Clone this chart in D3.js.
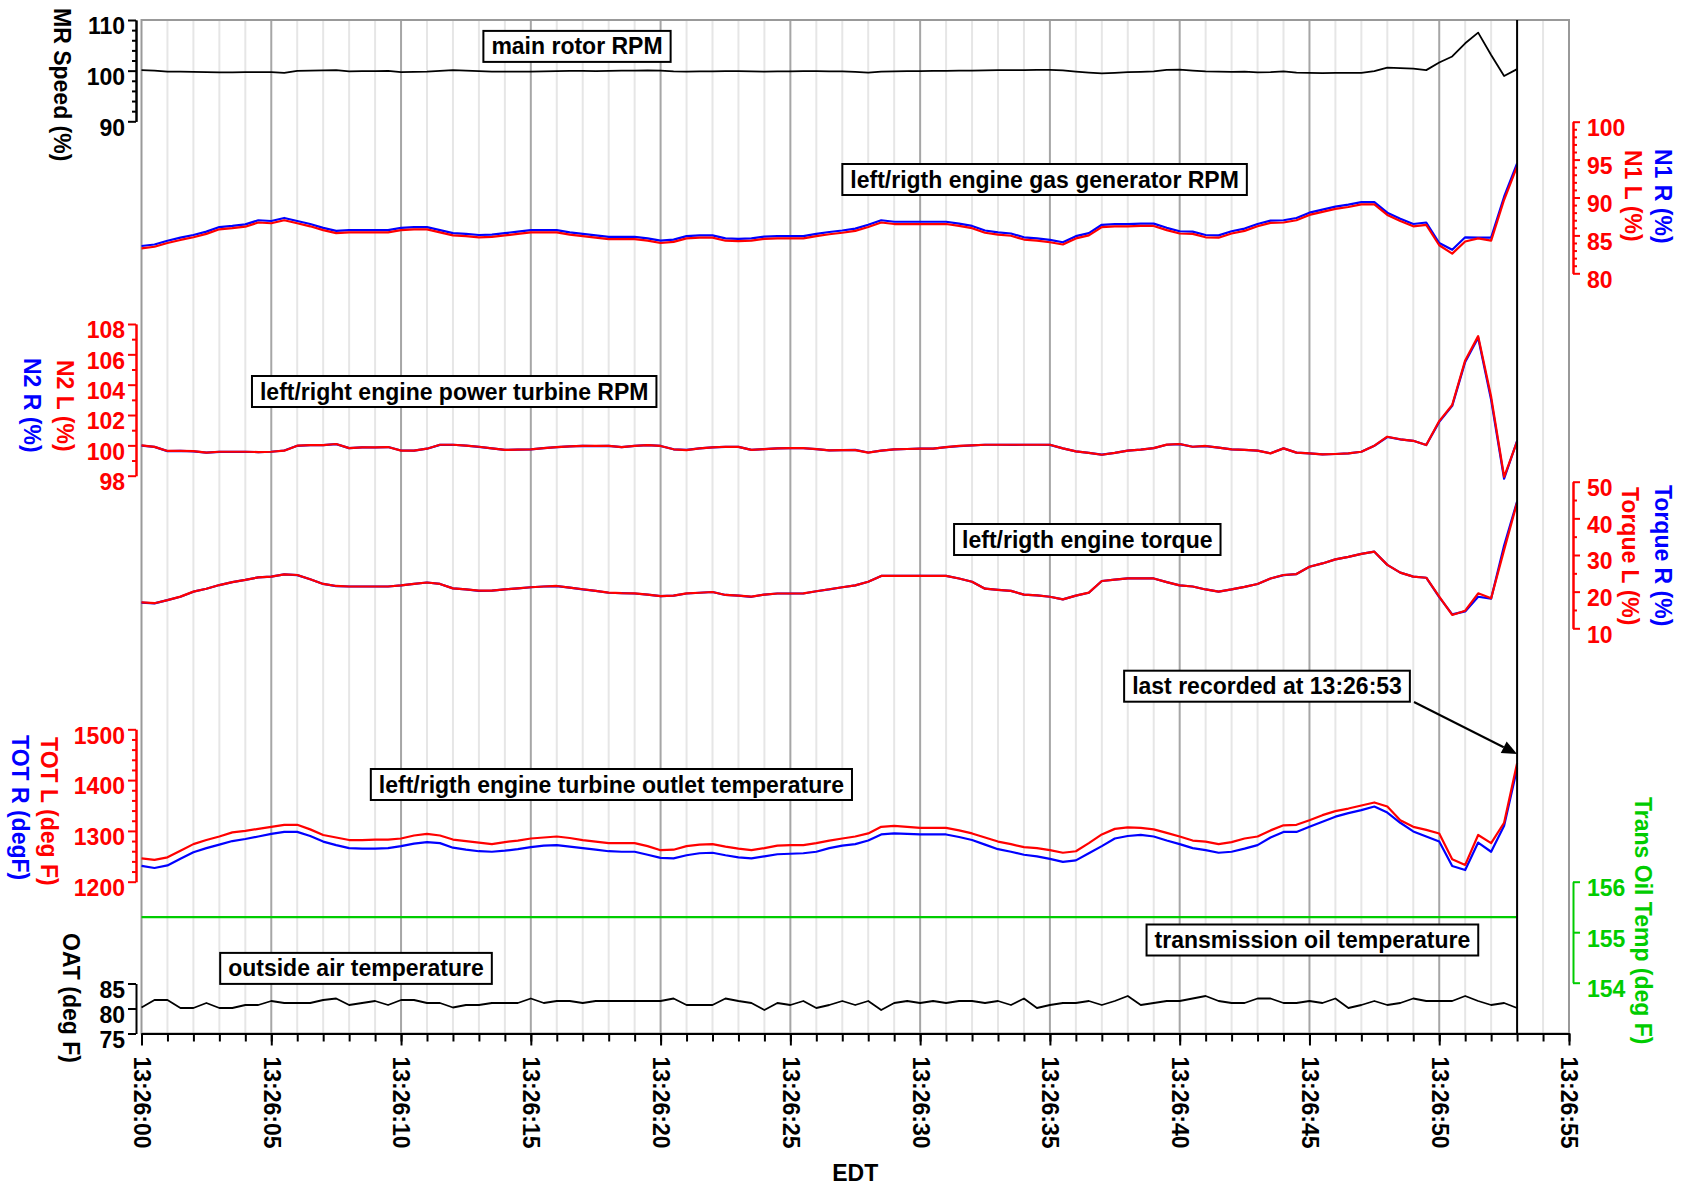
<!DOCTYPE html>
<html>
<head>
<meta charset="utf-8">
<script src="https://cdn.jsdelivr.net/npm/d3@7"></script>
<style>
  html, body { margin: 0; padding: 0; background: #fff; }
  svg text { font-family: "Liberation Sans", Arial, sans-serif; font-weight: bold; }
</style>
</head>
<body>
<svg id="chart" width="1684" height="1186"></svg>
<script>
// ---- recorded samples: seconds after 13:26:00, every 0.5 s ----
const seconds = [
  0,0.5,1,1.5,2,2.5,3,3.5,4,4.5,
  5,5.5,6,6.5,7,7.5,8,8.5,9,9.5,
  10,10.5,11,11.5,12,12.5,13,13.5,14,14.5,
  15,15.5,16,16.5,17,17.5,18,18.5,19,19.5,
  20,20.5,21,21.5,22,22.5,23,23.5,24,24.5,
  25,25.5,26,26.5,27,27.5,28,28.5,29,29.5,
  30,30.5,31,31.5,32,32.5,33,33.5,34,34.5,
  35,35.5,36,36.5,37,37.5,38,38.5,39,39.5,
  40,40.5,41,41.5,42,42.5,43,43.5,44,44.5,
  45,45.5,46,46.5,47,47.5,48,48.5,49,49.5,
  50,50.5,51,51.5,52,52.5,53
];

// main rotor speed (%)
const mrSpeed = [
  100.1,100.0,99.8,99.8,99.75,99.7,99.65,99.65,99.7,99.7,
  99.7,99.55,99.95,100.0,100.05,100.1,99.85,99.9,99.9,99.95,
  99.7,99.75,99.8,99.95,100.1,100.0,99.9,99.8,99.8,99.8,
  99.8,99.85,99.9,99.95,99.95,99.9,99.95,100.0,100.0,100.05,
  100.0,99.85,99.8,99.85,99.85,99.9,99.9,99.85,99.8,99.85,
  99.85,99.9,99.9,99.85,99.85,99.75,99.6,99.8,99.85,99.9,
  99.9,99.95,99.95,100.0,100.0,100.05,100.1,100.1,100.1,100.15,
  100.15,100.05,99.8,99.6,99.45,99.55,99.7,99.75,99.85,100.15,
  100.2,100.0,99.85,99.8,99.75,99.8,99.65,99.7,99.85,99.6,
  99.55,99.5,99.55,99.55,99.55,99.9,100.6,100.5,100.4,100.1,
  101.6,102.8,105.4,107.5,103.1,98.95,100.3
];

// gas generator speed, left / right engine (%)
const n1Left = [
  83.3,83.5,84.0,84.4,84.75,85.2,85.8,85.95,86.15,86.7,
  86.6,87.0,86.6,86.2,85.7,85.3,85.4,85.4,85.4,85.4,
  85.7,85.8,85.8,85.4,85.0,84.9,84.75,84.8,85.0,85.2,
  85.4,85.4,85.4,85.1,84.9,84.7,84.5,84.5,84.5,84.3,
  84.0,84.15,84.6,84.7,84.7,84.3,84.25,84.3,84.55,84.6,
  84.6,84.6,84.9,85.15,85.35,85.6,86.1,86.7,86.5,86.5,
  86.5,86.5,86.5,86.25,85.95,85.35,85.1,84.95,84.45,84.3,
  84.1,83.8,84.6,85.0,86.1,86.2,86.2,86.25,86.25,85.7,
  85.25,85.2,84.75,84.7,85.25,85.6,86.2,86.65,86.7,87.0,
  87.7,88.1,88.5,88.75,89.1,89.1,87.7,86.9,86.2,86.4,
  83.7,82.6,84.2,84.6,84.3,89.7,94.1
];
const n1Right = [
  83.6,83.8,84.3,84.7,85.05,85.5,86.1,86.25,86.45,87.0,
  86.9,87.3,86.9,86.5,86.0,85.6,85.7,85.7,85.7,85.7,
  86.0,86.1,86.1,85.7,85.3,85.2,85.05,85.1,85.3,85.5,
  85.7,85.7,85.7,85.4,85.2,85.0,84.8,84.8,84.8,84.6,
  84.3,84.45,84.9,85.0,85.0,84.6,84.55,84.6,84.85,84.9,
  84.9,84.9,85.2,85.45,85.65,85.9,86.4,87.0,86.8,86.8,
  86.8,86.8,86.8,86.55,86.25,85.65,85.4,85.25,84.75,84.6,
  84.4,84.1,84.9,85.3,86.4,86.5,86.5,86.55,86.55,86.0,
  85.55,85.5,85.05,85.0,85.55,85.9,86.5,86.95,87.0,87.3,
  88.0,88.4,88.8,89.05,89.4,89.4,88.0,87.2,86.5,86.7,
  84.0,83.1,84.75,84.7,84.7,90.1,94.5
];

// power turbine speed, left / right engine (%)
const n2Left = [
  100.0,99.9,99.63,99.63,99.62,99.52,99.58,99.58,99.58,99.56,
  99.58,99.65,99.98,100.02,100.02,100.09,99.82,99.87,99.87,99.89,
  99.65,99.65,99.78,100.04,100.04,99.98,99.91,99.8,99.7,99.72,
  99.74,99.82,99.89,99.93,99.96,99.96,99.96,99.89,99.96,100.02,
  99.96,99.74,99.69,99.8,99.87,99.91,99.9,99.7,99.75,99.8,
  99.82,99.82,99.75,99.67,99.68,99.69,99.52,99.65,99.74,99.76,
  99.78,99.78,99.88,99.96,100.0,100.04,100.04,100.04,100.04,100.04,
  100.04,99.8,99.6,99.5,99.38,99.5,99.65,99.72,99.82,100.05,
  100.09,99.91,99.96,99.85,99.74,99.7,99.65,99.47,99.8,99.52,
  99.47,99.4,99.43,99.47,99.58,99.98,100.57,100.4,100.3,100.02,
  101.6,102.66,105.6,107.2,103.2,97.93,100.24
];
const n2Right = [
  99.98,99.9,99.62,99.63,99.6,99.52,99.57,99.58,99.57,99.56,
  99.58,99.66,99.97,100.02,100.02,100.08,99.82,99.87,99.86,99.89,
  99.66,99.65,99.78,100.03,100.04,99.98,99.9,99.8,99.7,99.72,
  99.74,99.82,99.88,99.93,99.96,99.95,99.96,99.89,99.96,100.01,
  99.96,99.74,99.7,99.8,99.87,99.9,99.9,99.7,99.75,99.8,
  99.82,99.81,99.75,99.67,99.68,99.7,99.53,99.65,99.74,99.76,
  99.78,99.78,99.88,99.95,100.0,100.04,100.04,100.03,100.04,100.04,
  100.03,99.8,99.6,99.5,99.39,99.5,99.65,99.72,99.82,100.04,
  100.08,99.91,99.95,99.85,99.74,99.7,99.65,99.48,99.8,99.52,
  99.47,99.41,99.43,99.47,99.58,99.97,100.55,100.4,100.3,100.02,
  101.55,102.6,105.5,107.1,103.0,97.8,100.3
];

// engine torque, left / right (%)
const torqueLeft = [
  17.1,16.85,17.7,18.65,20.0,20.8,21.8,22.6,23.2,23.9,
  24.1,24.7,24.55,23.4,22.1,21.55,21.4,21.4,21.4,21.4,
  21.7,22.1,22.5,22.1,20.9,20.6,20.3,20.3,20.6,20.9,
  21.2,21.4,21.55,21.1,20.65,20.2,19.75,19.6,19.55,19.2,
  18.8,18.9,19.55,19.7,19.9,19.1,18.9,18.65,19.2,19.5,
  19.5,19.55,20.1,20.65,21.2,21.7,22.7,24.3,24.3,24.3,
  24.3,24.3,24.3,23.6,22.7,20.8,20.5,20.2,19.2,19.0,
  18.6,17.9,18.9,19.75,22.9,23.3,23.6,23.6,23.6,22.6,
  21.7,21.4,20.6,20.0,20.6,21.3,22.1,23.6,24.55,24.8,
  26.8,27.7,28.8,29.5,30.3,30.9,27.3,25.2,24.1,23.8,
  18.65,13.65,14.8,19.55,18.2,31.4,44.3
];
const torqueRight = [
  17.0,16.8,17.7,18.6,20.0,20.8,21.8,22.6,23.2,23.9,
  24.1,24.7,24.5,23.4,22.1,21.5,21.4,21.4,21.4,21.4,
  21.7,22.1,22.5,22.1,20.9,20.6,20.2,20.3,20.6,20.9,
  21.2,21.4,21.5,21.1,20.6,20.2,19.7,19.6,19.5,19.2,
  18.8,18.9,19.5,19.7,19.9,19.1,18.9,18.6,19.2,19.5,
  19.5,19.5,20.1,20.6,21.2,21.7,22.7,24.3,24.3,24.3,
  24.3,24.3,24.3,23.6,22.7,20.8,20.5,20.2,19.2,19.0,
  18.6,17.9,18.9,19.7,22.9,23.3,23.6,23.6,23.6,22.6,
  21.7,21.4,20.6,20.0,20.6,21.3,22.1,23.6,24.5,24.8,
  26.8,27.7,28.8,29.5,30.3,30.9,27.3,25.2,24.1,23.8,
  18.5,13.8,14.6,18.6,18.1,32.6,44.6
];

// turbine outlet temperature, left / right (deg F)
const totLeft = [
  1246,1243,1248,1261,1274,1282,1289,1297,1300,1304,
  1308,1312,1312,1303,1292,1287,1282,1282,1283,1283,
  1285,1291,1294,1291,1283,1280,1277,1274,1278,1281,
  1285,1287,1289,1286,1282,1279,1276,1276,1276,1270,
  1262,1263,1270,1273,1274,1269,1265,1262,1266,1271,
  1272,1272,1276,1281,1285,1289,1295,1308,1310,1308,
  1306,1306,1306,1301,1295,1287,1279,1274,1268,1266,
  1262,1257,1260,1276,1293,1304,1307,1306,1303,1296,
  1289,1281,1279,1274,1278,1285,1289,1301,1311,1312,
  1321,1331,1339,1344,1350,1356,1348,1321,1308,1302,
  1295,1244,1233,1292,1276,1316,1433
];
const totRight = [
  1231,1227,1232,1245,1258,1266,1273,1280,1284,1289,
  1294,1298,1298,1290,1279,1272,1266,1265,1265,1266,
  1270,1275,1278,1276,1267,1263,1260,1259,1261,1264,
  1268,1271,1272,1269,1266,1263,1260,1259,1259,1253,
  1247,1246,1252,1256,1257,1252,1248,1246,1250,1254,
  1255,1256,1259,1266,1271,1274,1281,1293,1295,1294,
  1293,1293,1293,1288,1282,1273,1264,1259,1253,1250,
  1245,1239,1242,1256,1270,1285,1290,1292,1289,1281,
  1274,1266,1262,1257,1259,1265,1272,1287,1298,1298,
  1308,1318,1328,1335,1341,1348,1336,1316,1299,1289,
  1279,1231,1223,1277,1259,1310,1423
];

// transmission oil temperature (deg F)
const transOilTemp = [
  155.3,155.3,155.3,155.3,155.3,155.3,155.3,155.3,155.3,155.3,
  155.3,155.3,155.3,155.3,155.3,155.3,155.3,155.3,155.3,155.3,
  155.3,155.3,155.3,155.3,155.3,155.3,155.3,155.3,155.3,155.3,
  155.3,155.3,155.3,155.3,155.3,155.3,155.3,155.3,155.3,155.3,
  155.3,155.3,155.3,155.3,155.3,155.3,155.3,155.3,155.3,155.3,
  155.3,155.3,155.3,155.3,155.3,155.3,155.3,155.3,155.3,155.3,
  155.3,155.3,155.3,155.3,155.3,155.3,155.3,155.3,155.3,155.3,
  155.3,155.3,155.3,155.3,155.3,155.3,155.3,155.3,155.3,155.3,
  155.3,155.3,155.3,155.3,155.3,155.3,155.3,155.3,155.3,155.3,
  155.3,155.3,155.3,155.3,155.3,155.3,155.3,155.3,155.3,155.3,
  155.3,155.3,155.3,155.3,155.3,155.3,155.3
];

// outside air temperature (deg F)
const oat = [
  80.2,81.7,81.7,80.1,80.1,81.1,80.1,80.1,80.7,80.7,
  81.5,81.1,81.1,81.1,81.7,82.0,80.7,81.1,81.5,80.7,
  81.7,81.7,81.1,81.1,80.2,80.7,80.7,81.1,81.1,81.1,
  82.0,81.1,81.5,81.5,81.1,81.5,81.5,81.5,81.5,81.5,
  81.5,82.0,80.7,80.7,80.7,82.0,81.5,81.1,79.7,81.1,
  80.7,81.5,80.1,80.7,81.5,80.7,81.5,79.7,81.1,81.5,
  81.1,81.5,81.1,81.5,81.5,81.1,81.5,80.7,82.0,80.1,
  80.7,81.1,81.1,81.5,80.7,81.5,82.5,80.7,81.1,81.5,
  81.5,82.0,82.5,81.5,81.1,81.1,82.0,82.0,81.1,81.1,
  81.5,81.1,82.0,80.1,80.7,81.5,80.7,81.1,82.0,81.5,
  81.5,81.5,82.5,81.5,80.7,81.1,80.1
];

const lastRecorded = 53;

// ---- tick values and labels ----
const xMajorTicks = [0, 5, 10, 15, 20, 25, 30, 35, 40, 45, 50, 55];
const xTickLabels = ["13:26:00","13:26:05","13:26:10","13:26:15","13:26:20","13:26:25",
                     "13:26:30","13:26:35","13:26:40","13:26:45","13:26:50","13:26:55"];
const mrTicks = [90, 100, 110];
const mrMinor = [92, 94, 96, 98, 102, 104, 106, 108];
const n1Ticks = [80, 85, 90, 95, 100];
const n1Minor = [81,82,83,84,86,87,88,89,91,92,93,94,96,97,98,99];
const n2Ticks = [98, 100, 102, 104, 106, 108];
const n2Minor = [99, 101, 103, 105, 107];
const tqTicks = [10, 20, 30, 40, 50];
const tqMinor = [15, 25, 35, 45];
const totTicks = [1200, 1300, 1400, 1500];
const totMinor = [1220,1240,1260,1280,1320,1340,1360,1380,1420,1440,1460,1480];
const oilTicks = [154, 155, 156];
const oatTicks = [75, 80, 85];

// ---- layout ----
const RED = "#ff0000", BLUE = "#0000ff", GREEN = "#00cc00", BLACK = "#000000";
const FONT = 23;
const plot = { left: 141.5, right: 1569, top: 20, bottom: 1033.5 };
const leftSpine = 136, rightSpine = 1573;

const svg = d3.select("#chart");

const x = d3.scaleLinear().domain([0, 55]).range([plot.left, plot.right]);
const yMR  = d3.scaleLinear().domain([90, 110]).range([121.3, 20]);
const yN1  = d3.scaleLinear().domain([80, 100]).range([273.3, 121.7]);
const yN2  = d3.scaleLinear().domain([98, 108]).range([475.7, 324]);
const yTq  = d3.scaleLinear().domain([10, 50]).range([628.3, 481.7]);
const yTot = d3.scaleLinear().domain([1200, 1500]).range([881.7, 729.3]);
const yOil = d3.scaleLinear().domain([154, 156]).range([982.7, 881.7]);
const yOat = d3.scaleLinear().domain([75, 85]).range([1033.5, 983.5]);

// vertical grid: light every second, darker every five seconds
const gridG = svg.append("g");
d3.range(1, 55).forEach(s => {
  gridG.append("line")
    .attr("x1", x(s)).attr("x2", x(s))
    .attr("y1", plot.top).attr("y2", plot.bottom)
    .attr("stroke", s % 5 === 0 ? "#a6a6a6" : "#e6e6e6")
    .attr("stroke-width", 2);
});

// plot frame
svg.append("rect")
  .attr("x", plot.left).attr("y", plot.top)
  .attr("width", plot.right - plot.left).attr("height", plot.bottom - plot.top)
  .attr("fill", "none").attr("stroke", "#999").attr("stroke-width", 2);

// series
function drawSeries(values, scale, color, width) {
  const line = d3.line()
    .x((d, i) => x(seconds[i]))
    .y(d => scale(d));
  svg.append("path")
    .datum(values)
    .attr("d", line)
    .attr("fill", "none")
    .attr("stroke", color)
    .attr("stroke-width", width)
    .attr("stroke-linejoin", "round");
}

drawSeries(transOilTemp, yOil, GREEN, 2.2);
drawSeries(mrSpeed, yMR, BLACK, 1.8);
drawSeries(n1Right, yN1, BLUE, 2.2);
drawSeries(n1Left, yN1, RED, 2.2);
drawSeries(n2Right, yN2, BLUE, 2.2);
drawSeries(n2Left, yN2, RED, 2.2);
drawSeries(torqueRight, yTq, BLUE, 2.2);
drawSeries(torqueLeft, yTq, RED, 2.2);
drawSeries(totRight, yTot, BLUE, 2.2);
drawSeries(totLeft, yTot, RED, 2.2);
drawSeries(oat, yOat, BLACK, 1.8);

// end-of-recording marker
svg.append("line")
  .attr("x1", x(lastRecorded)).attr("x2", x(lastRecorded))
  .attr("y1", plot.top).attr("y2", plot.bottom)
  .attr("stroke", BLACK).attr("stroke-width", 2);

// ---- axes ----
function styleAxis(g, color) {
  g.attr("font-size", FONT).attr("font-family", null);
  g.selectAll("path, line").attr("stroke", color).attr("stroke-width", 2);
  g.selectAll("text").attr("fill", color);
}

function drawYAxis(scale, side, major, minor, color) {
  const make = side === "left" ? d3.axisLeft : d3.axisRight;
  const xPos = side === "left" ? leftSpine : rightSpine;
  const majorLen = side === "left" ? 8 : 7;
  const minorLen = 4;
  const pad = side === "left" ? 3 : 7;
  const g = svg.append("g").attr("transform", `translate(${xPos},0)`);
  if (minor) {
    const gm = g.append("g").call(make(scale).tickValues(minor).tickSize(minorLen).tickSizeOuter(0).tickFormat(""));
    styleAxis(gm, color);
  }
  const ga = g.append("g").call(make(scale).tickValues(major).tickSize(majorLen)
    .tickSizeOuter(0).tickPadding(pad).tickFormat(d3.format("d")));
  styleAxis(ga, color);
  ga.selectAll("text").attr("dy", "0.6em");
}

drawYAxis(yMR, "left", mrTicks, mrMinor, BLACK);
drawYAxis(yN2, "left", n2Ticks, n2Minor, RED);
drawYAxis(yTot, "left", totTicks, totMinor, RED);
drawYAxis(yOat, "left", oatTicks, null, BLACK);
drawYAxis(yN1, "right", n1Ticks, n1Minor, RED);
drawYAxis(yTq, "right", tqTicks, tqMinor, RED);
drawYAxis(yOil, "right", oilTicks, null, GREEN);

// time axis
const xg = svg.append("g").attr("transform", `translate(0,${plot.bottom})`);
const xMinor = xg.append("g").call(d3.axisBottom(x).tickValues(d3.range(0, 56)).tickSize(8).tickSizeOuter(0).tickFormat(""));
styleAxis(xMinor, BLACK);
const xMajor = xg.append("g").call(d3.axisBottom(x).tickValues(xMajorTicks).tickSize(12)
  .tickSizeOuter(0).tickFormat((d, i) => xTickLabels[i]));
styleAxis(xMajor, BLACK);
xMajor.selectAll("text")
  .attr("transform", "rotate(90)")
  .attr("x", 23).attr("y", 0).attr("dy", "0.35em")
  .attr("text-anchor", "start");

svg.append("text")
  .attr("x", (plot.left + plot.right) / 2).attr("y", 1173)
  .attr("dy", "0.35em").attr("text-anchor", "middle")
  .attr("font-size", FONT).attr("fill", BLACK)
  .text("EDT");

// rotated axis titles
const axisTitles = [
  { text: "MR Speed (%)", x: 62, y: 8, color: BLACK },
  { text: "N2 L (%)", x: 65, y: 360, color: RED },
  { text: "N2 R (%)", x: 32, y: 358, color: BLUE },
  { text: "TOT L (deg F)", x: 49, y: 737, color: RED },
  { text: "TOT R (degF)", x: 20, y: 735, color: BLUE },
  { text: "OAT (deg F)", x: 71, y: 933, color: BLACK },
  { text: "N1 L (%)", x: 1633, y: 150, color: RED },
  { text: "N1 R (%)", x: 1663, y: 149, color: BLUE },
  { text: "Torque L (%)", x: 1630, y: 487, color: RED },
  { text: "Torque R (%)", x: 1663, y: 485, color: BLUE },
  { text: "Trans Oil Temp (deg F)", x: 1643, y: 797, color: GREEN }
];
axisTitles.forEach(t => {
  svg.append("text")
    .attr("transform", `translate(${t.x},${t.y}) rotate(90)`)
    .attr("dy", "0.35em")
    .attr("text-anchor", "start")
    .attr("font-size", FONT)
    .attr("fill", t.color)
    .text(t.text);
});

// ---- boxed notes ----
const notes = [
  { text: "main rotor RPM", cx: 577, cy: 46.4 },
  { text: "left/rigth engine gas generator RPM", cx: 1044.6, cy: 179.5 },
  { text: "left/right engine power turbine RPM", cx: 454.2, cy: 391.5 },
  { text: "left/rigth engine torque", cx: 1087.3, cy: 539.5 },
  { text: "last recorded at 13:26:53", cx: 1267, cy: 686.2 },
  { text: "left/rigth engine turbine outlet temperature", cx: 611.4, cy: 784.5 },
  { text: "transmission oil temperature", cx: 1312.4, cy: 940 },
  { text: "outside air temperature", cx: 356, cy: 968.4 }
];
notes.forEach(n => {
  const g = svg.append("g");
  const rect = g.append("rect");
  const txt = g.append("text")
    .attr("x", n.cx).attr("y", n.cy)
    .attr("dy", "0.35em").attr("text-anchor", "middle")
    .attr("font-size", FONT).attr("fill", BLACK)
    .text(n.text);
  const w = txt.node().getComputedTextLength() + 16;
  const h = 31;
  rect.attr("x", n.cx - w / 2).attr("y", n.cy - h / 2)
    .attr("width", w).attr("height", h)
    .attr("fill", "#fff").attr("stroke", BLACK).attr("stroke-width", 2);
});

// arrow from the "last recorded" note to the end-of-recording line
const arrowFrom = [1414, 702];
const arrowTo = [x(lastRecorded), 754];
(function drawArrow() {
  const dx = arrowTo[0] - arrowFrom[0], dy = arrowTo[1] - arrowFrom[1];
  const len = Math.hypot(dx, dy), ux = dx / len, uy = dy / len;
  const headLen = 15, headHalf = 6.5;
  const bx = arrowTo[0] - ux * headLen, by = arrowTo[1] - uy * headLen;
  svg.append("line")
    .attr("x1", arrowFrom[0]).attr("y1", arrowFrom[1])
    .attr("x2", bx).attr("y2", by)
    .attr("stroke", BLACK).attr("stroke-width", 2);
  svg.append("polygon")
    .attr("points", [
      [arrowTo[0], arrowTo[1]],
      [bx - uy * headHalf, by + ux * headHalf],
      [bx + uy * headHalf, by - ux * headHalf]
    ].map(p => p.join(",")).join(" "))
    .attr("fill", BLACK);
})();
</script>
</body>
</html>
